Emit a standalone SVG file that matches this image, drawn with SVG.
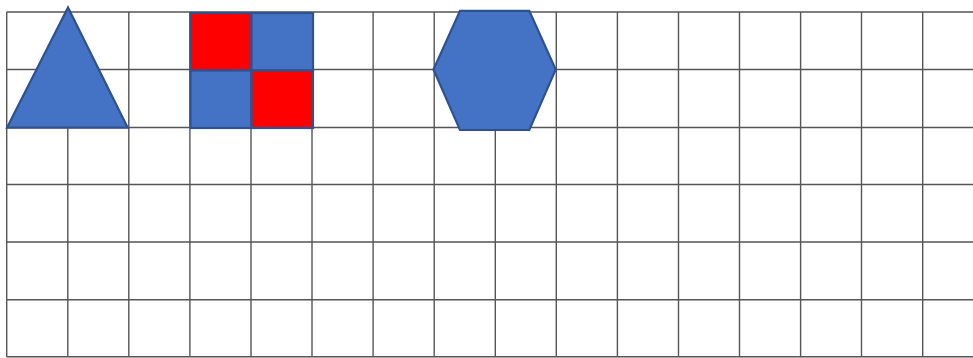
<svg xmlns="http://www.w3.org/2000/svg" width="973" height="358" viewBox="0 0 973 358">
<style>
.grid line{stroke:#555;stroke-width:1.4}
.blue{fill:#4472C4;stroke:#2F528F;stroke-width:2.2;stroke-linejoin:miter}
.red{fill:#FF0000;stroke:#2F528F;stroke-width:2.2}
</style>
<rect width="973" height="358" fill="#fff"/>
<g id="grid" class="grid">
<line x1="6.7" y1="12" x2="973" y2="12"/>
<line x1="6.7" y1="69.5" x2="973" y2="69.5"/>
<line x1="6.7" y1="127.5" x2="973" y2="127.5"/>
<line x1="6.7" y1="184.5" x2="973" y2="184.5"/>
<line x1="6.7" y1="242" x2="973" y2="242"/>
<line x1="6.7" y1="299.7" x2="973" y2="299.7"/>
<line x1="6.7" y1="356.8" x2="973" y2="356.8"/>
<line x1="6.7" y1="12" x2="6.7" y2="357"/>
<line x1="67.8" y1="12" x2="67.8" y2="357"/>
<line x1="128.8" y1="12" x2="128.8" y2="357"/>
<line x1="189.9" y1="12" x2="189.9" y2="357"/>
<line x1="251" y1="12" x2="251" y2="357"/>
<line x1="312" y1="12" x2="312" y2="357"/>
<line x1="373.1" y1="12" x2="373.1" y2="357"/>
<line x1="434.2" y1="12" x2="434.2" y2="357"/>
<line x1="495.3" y1="12" x2="495.3" y2="357"/>
<line x1="556.3" y1="12" x2="556.3" y2="357"/>
<line x1="617.4" y1="12" x2="617.4" y2="357"/>
<line x1="678.5" y1="12" x2="678.5" y2="357"/>
<line x1="739.5" y1="12" x2="739.5" y2="357"/>
<line x1="800.6" y1="12" x2="800.6" y2="357"/>
<line x1="861.5" y1="12" x2="861.5" y2="357"/>
<line x1="922.7" y1="12" x2="922.7" y2="357"/>
</g>
<g id="triangle">
<polygon class="blue" points="68,7.5 7,127.7 127.7,127.7"/>
</g>
<g id="squares">
<rect class="red" x="190.5" y="13" width="61" height="57.5"/>
<rect class="blue" x="251.5" y="13" width="61.5" height="57.5"/>
<rect class="blue" x="190.5" y="70.5" width="61" height="57.5"/>
<rect class="red" x="251.5" y="70.5" width="61.5" height="57.5"/>
</g>
<g id="hexagon">
<polygon class="blue" points="460,10.8 529.3,10.8 555.7,69.5 529.3,130 460,130 433.5,69.5"/>
</g>
</svg>
